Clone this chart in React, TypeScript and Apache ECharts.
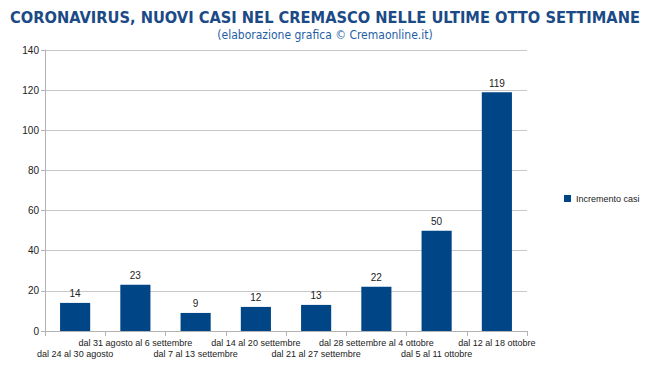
import React, { useEffect, useRef } from "react";
import * as echarts from "echarts";

const categories = [
  "dal 24 al 30 agosto",
  "dal 31 agosto al 6 settembre",
  "dal 7 al 13 settembre",
  "dal 14 al 20 settembre",
  "dal 21 al 27 settembre",
  "dal 28 settembre al 4 ottobre",
  "dal 5 al 11 ottobre",
  "dal 12 al 18 ottobre",
];
const values = [14, 23, 9, 12, 13, 22, 50, 119];
const seriesName = "Incremento casi";
const titleText = "CORONAVIRUS, NUOVI CASI NEL CREMASCO NELLE ULTIME OTTO SETTIMANE";
const subtitleText = "(elaborazione grafica © Cremaonline.it)";

export default function App() {
  const ref = useRef<HTMLDivElement>(null);
  useEffect(() => {
    if (!ref.current) return;
    const chart = echarts.init(ref.current, undefined, { renderer: "svg" });
    chart.setOption({
      animation: false,
      backgroundColor: "#ffffff",
      title: {
        text: titleText,
        subtext: subtitleText,
        left: "center",
        top: 4,
        itemGap: 4,
        textStyle: {
          fontFamily: "DejaVu Sans Condensed",
          fontWeight: "bold",
          fontSize: 16.3,
          color: "#1b4a86",
        },
        subtextStyle: {
          fontFamily: "DejaVu Sans Condensed",
          fontSize: 12,
          color: "#1f5fa8",
        },
      },
      legend: {
        orient: "vertical",
        left: 559,
        top: 189,
        itemWidth: 7,
        itemHeight: 7,
        itemGap: 4,
        icon: "rect",
        textStyle: { fontFamily: "Liberation Sans", fontSize: 9, color: "#222" },
        data: [seriesName],
      },
      grid: { left: 45, right: 123, top: 50, bottom: 37, containLabel: false },
      xAxis: {
        type: "category",
        data: categories,
        axisLine: { lineStyle: { color: "#b3b3b3" } },
        axisTick: { show: true, length: 5, lineStyle: { color: "#b3b3b3" } },
        axisLabel: {
          interval: 0,
          margin: 6,
          fontFamily: "Liberation Sans",
          fontSize: 9,
          lineHeight: 11,
          color: "#222",
          formatter: (v: string, i: number) => (i % 2 === 0 ? "\n" + v : v),
        },
      },
      yAxis: {
        type: "value",
        min: 0,
        max: 140,
        interval: 20,
        axisLine: { show: true, lineStyle: { color: "#b3b3b3" } },
        axisTick: { show: true, length: 4, lineStyle: { color: "#b3b3b3" } },
        splitLine: { lineStyle: { color: "#c8c8c8" } },
        axisLabel: {
          margin: 6,
          fontFamily: "Liberation Sans",
          fontSize: 10,
          color: "#222",
        },
      },
      series: [
        {
          name: seriesName,
          type: "bar",
          data: values,
          barWidth: "50%",
          itemStyle: { color: "#004586" },
          label: {
            show: true,
            position: "top",
            distance: 4,
            fontFamily: "Liberation Sans",
            fontSize: 10,
            color: "#222",
          },
        },
      ],
    });
    return () => chart.dispose();
  }, []);
  return <div ref={ref} style={{ width: 650, height: 368, position: "absolute", left: 0, top: 0 }} />;
}
